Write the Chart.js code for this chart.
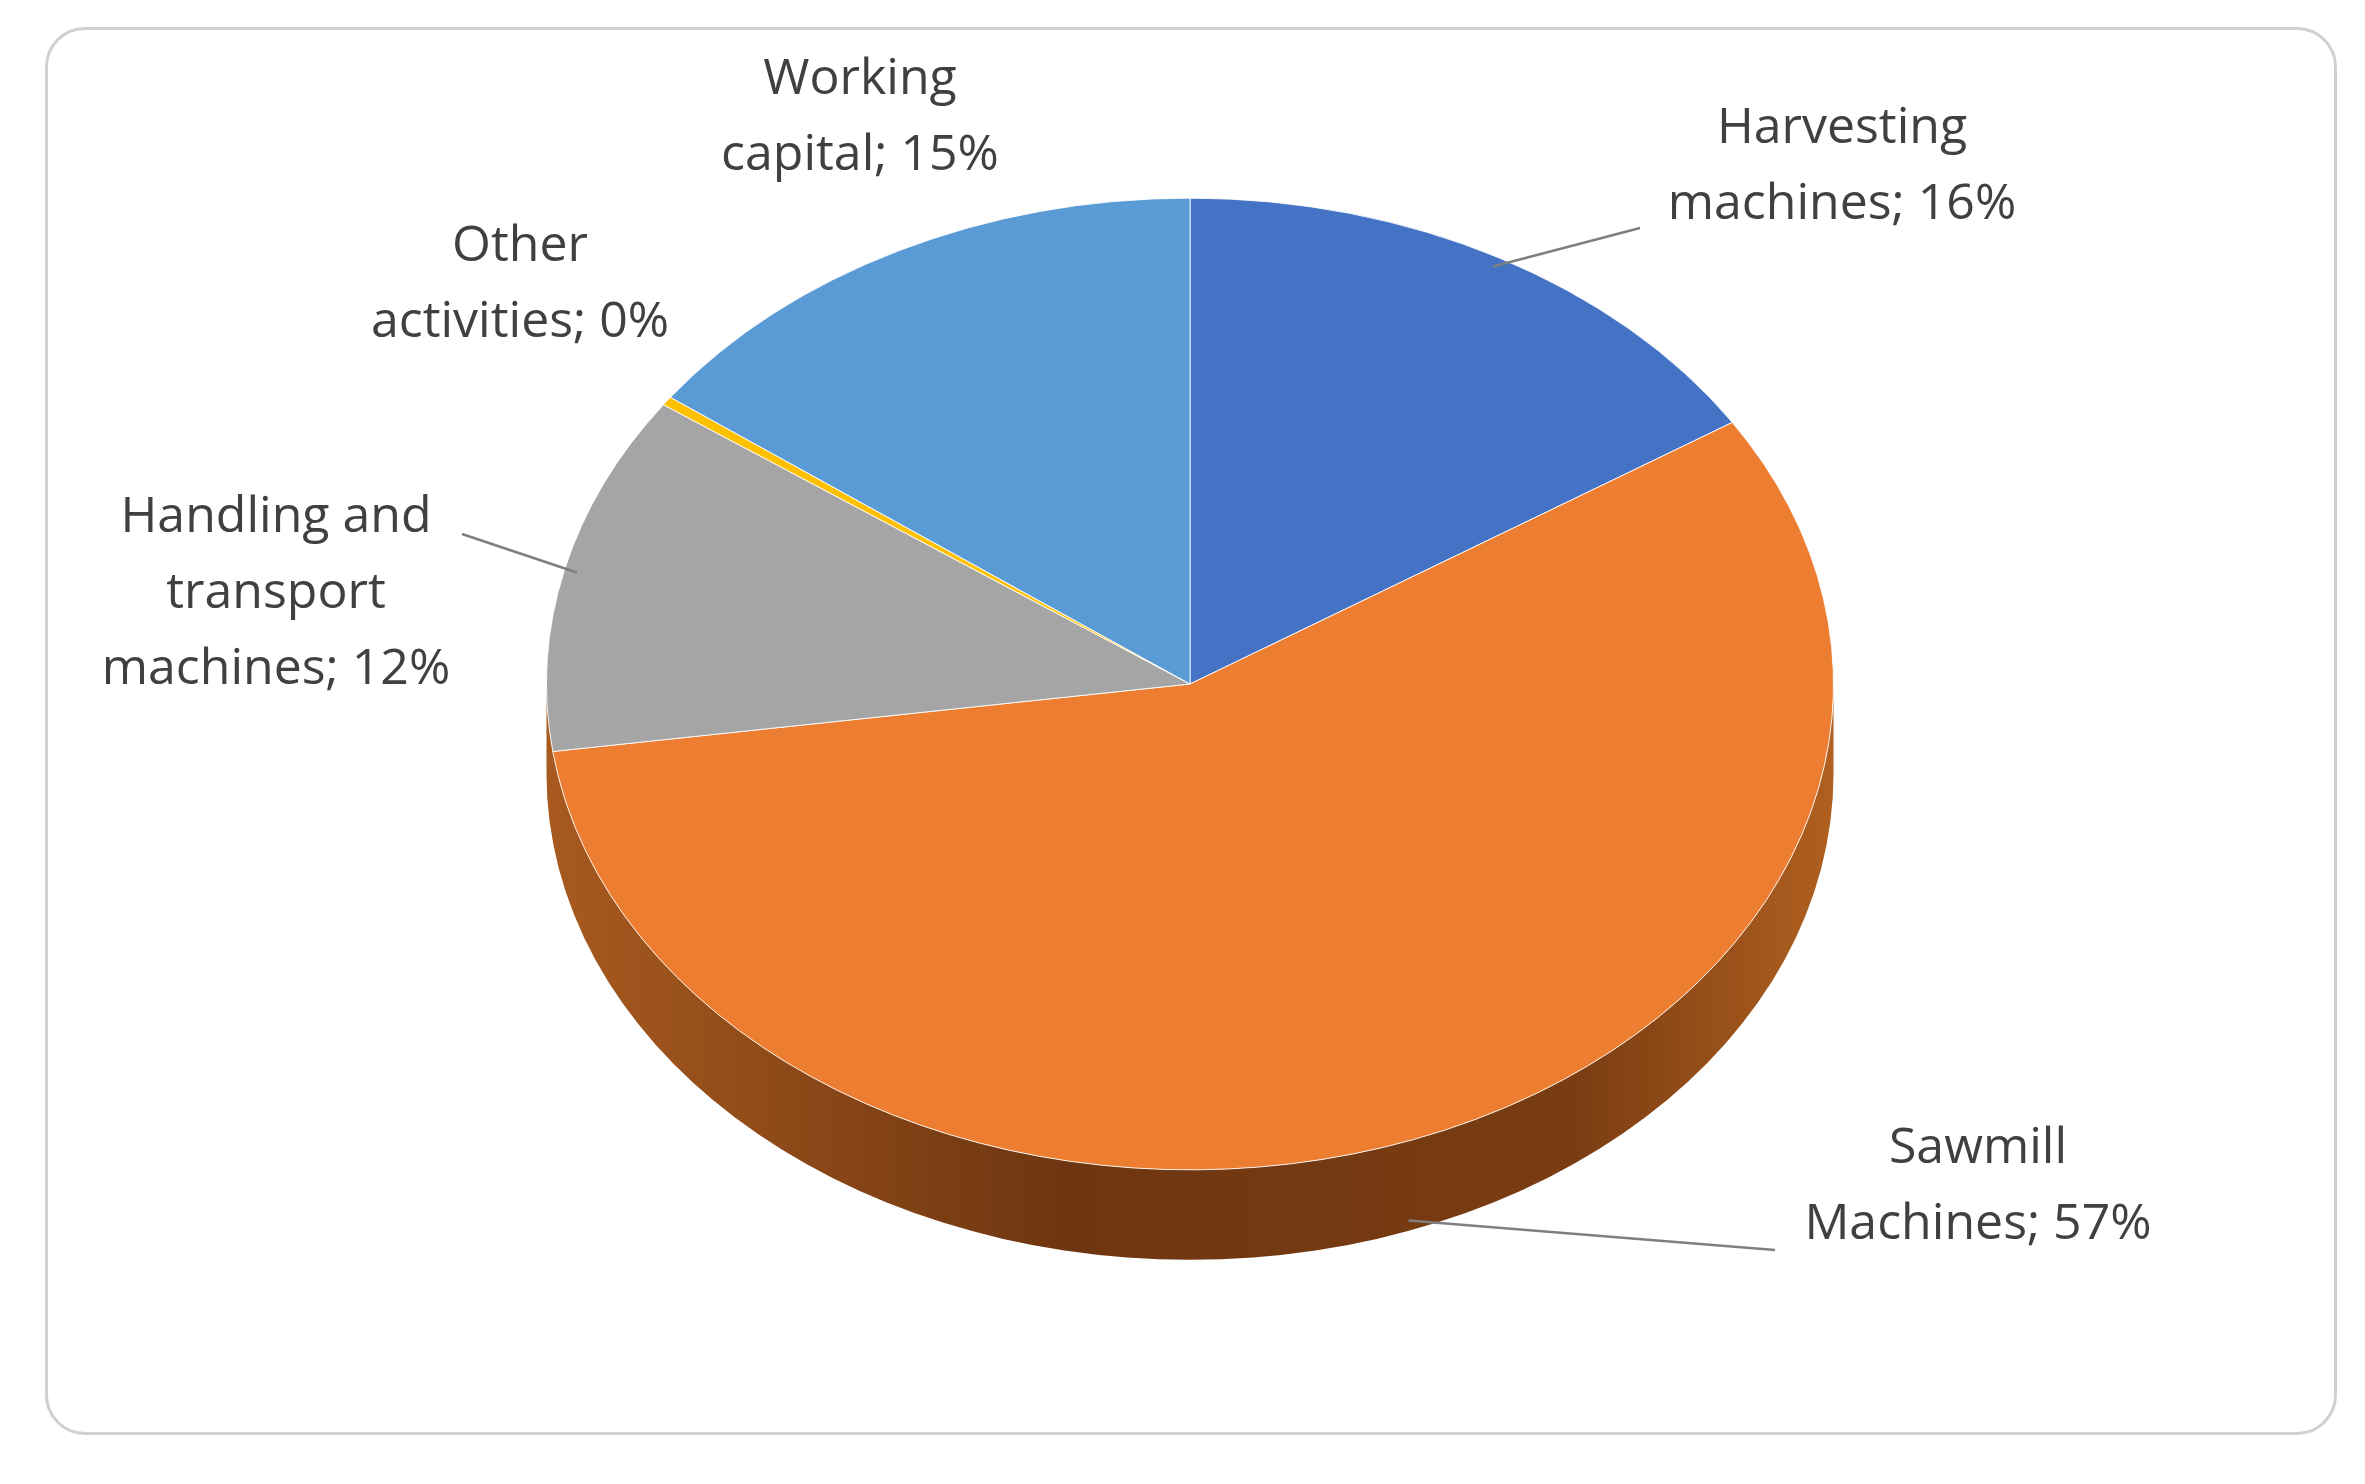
<!DOCTYPE html>
<html>
<head>
<meta charset="utf-8">
<script src="https://cdn.jsdelivr.net/npm/chart.js@4/dist/chart.umd.min.js"></script>
<style>
  html, body { margin: 0; padding: 0; background: #fff; }
  #wrap { position: relative; width: 2365px; height: 1484px; }
  #frame { position: absolute; left: 45px; top: 27px; width: 2292px; height: 1408px;
    border: 3px solid #d0d0d0; border-radius: 40px; box-sizing: border-box; }
  canvas { position: absolute; left: 0; top: 0; }
</style>
</head>
<body>
<div id="wrap">
  <div id="frame"></div>
  <canvas id="pie" width="2365" height="1484"></canvas>
</div>
<script>
const labels = [
  ["Harvesting", "machines; 16%"],
  ["Sawmill", "Machines; 57%"],
  ["Handling and", "transport", "machines; 12%"],
  ["Other", "activities; 0%"],
  ["Working", "capital; 15%"],
];
const values = [16, 57, 12, 0.3, 15];
const colors = ["#4472C4", "#ED7D31", "#A5A5A5", "#FFC000", "#5B9BD5"];
// label block centre and leader-line end (text side), in page pixels
const labelSpots = [
  { x: 1842, y: 167, lineTo: [1640, 228] },
  { x: 1978, y: 1187, lineTo: [1775, 1250] },
  { x: 276, y: 594, lineTo: [462, 534] },
  { x: 520, y: 285, lineTo: null },
  { x: 860, y: 118, lineTo: null },
];

const squash = 0.755;
const targetCy = 684;
const depth = 90;

const tiltPlugin = {
  id: "tilt",
  beforeDatasetsDraw(chart) {
    const arc = chart.getDatasetMeta(0).data[0];
    const ctx = chart.ctx;
    ctx.save();
    ctx.translate(arc.x, targetCy);
    ctx.scale(1, squash);
    ctx.translate(-arc.x, -arc.y);
    // side wall
    const r = arc.outerRadius;
    const g = ctx.createLinearGradient(arc.x - r, 0, arc.x + r, 0);
    g.addColorStop(0, "#a85a1f");
    g.addColorStop(0.4, "#6e3610");
    g.addColorStop(0.8, "#7a3d12");
    g.addColorStop(1, "#b0601f");
    ctx.fillStyle = g;
    ctx.beginPath();
    ctx.arc(arc.x, arc.y + depth / squash, r, 0, Math.PI);
    ctx.lineTo(arc.x - r, arc.y);
    ctx.arc(arc.x, arc.y, r, Math.PI, 0, true);
    ctx.closePath();
    ctx.fill();
  },
  afterDatasetsDraw(chart) {
    chart.ctx.restore();
  },
  afterDraw(chart) {
    const ctx = chart.ctx;
    const meta = chart.getDatasetMeta(0);
    ctx.save();
    ctx.font = "50px 'Open Sans'";
    ctx.fillStyle = "#404040";
    ctx.textAlign = "center";
    ctx.textBaseline = "middle";
    const lh = 76;
    labels.forEach((lines, i) => {
      const s = labelSpots[i];
      const top = s.y - (lines.length - 1) * lh / 2;
      lines.forEach((t, j) => ctx.fillText(t, s.x, top + j * lh));
      if (s.lineTo) {
        const a = meta.data[i];
        const mid = (a.startAngle + a.endAngle) / 2;
        const ex = a.x + Math.cos(mid) * a.outerRadius * 0.98;
        let ey = targetCy + Math.sin(mid) * a.outerRadius * 0.98 * squash;
        if (Math.sin(mid) > 0.3) ey += depth;
        ctx.strokeStyle = "#7f7f7f";
        ctx.lineWidth = 2.5;
        ctx.beginPath();
        ctx.moveTo(ex, ey);
        ctx.lineTo(s.lineTo[0], s.lineTo[1]);
        ctx.stroke();
      }
    });
    ctx.restore();
  },
};

new Chart(document.getElementById("pie"), {
  type: "pie",
  data: {
    labels: labels.map((l) => l.join(" ")),
    datasets: [{
      data: values,
      backgroundColor: colors,
      borderColor: "#ffffff",
      borderWidth: 1,
    }],
  },
  options: {
    responsive: false,
    animation: false,
    layout: { padding: { left: 546, right: 531, top: 98, bottom: 98 } },
    plugins: { legend: { display: false }, tooltip: { enabled: false } },
  },
  plugins: [tiltPlugin],
});
</script>
</body>
</html>
